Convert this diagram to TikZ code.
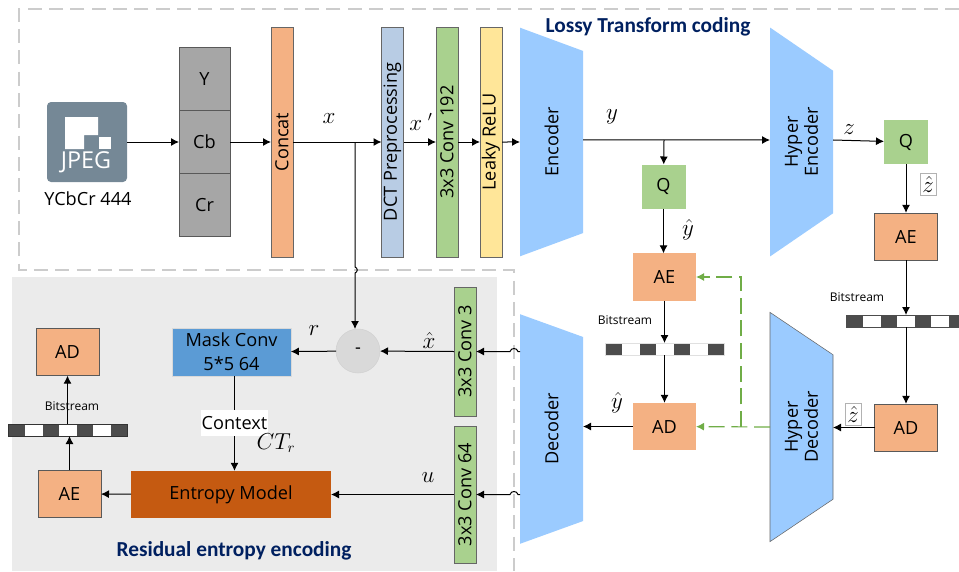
\documentclass[tikz,border=0pt]{standalone}
\usepackage{fontspec}
\setmainfont{Open Sans}
\newfontfamily\titlefont{Carlito}
\usetikzlibrary{arrows.meta,shapes.geometric}
\definecolor{orangebox}{HTML}{F4B183}
\definecolor{greenbox}{HTML}{A9D18E}
\definecolor{bluefunnel}{HTML}{9BCBFF}
\definecolor{navytitle}{HTML}{002060}
\definecolor{jpegslate}{HTML}{758896}
\definecolor{dctblue}{HTML}{B8CCE4}
\definecolor{relugold}{HTML}{FFE699}
\definecolor{maskblue}{HTML}{5B9BD5}
\definecolor{entropybrown}{HTML}{C55A11}
\definecolor{linkgreen}{HTML}{70AD47}
\tikzset{
  >={Latex[length=6pt,width=6pt]},
  base/.style={inner sep=0pt, outer sep=0pt, font=\fontsize{13.6}{15}\selectfont},
  tallbar/.style={base, draw=black!60, rotate=90, minimum height=16.5pt},
  stackbox/.style={base, draw=black!65, fill=black!35, minimum width=38.25pt, minimum height=47pt},
  orangebare/.style={base, fill=orangebox, minimum width=47.25pt, minimum height=35.5pt},
  orangeline/.style={orangebare, draw=black!65},
  qbox/.style={base, fill=greenbox, minimum size=33pt},
  funnel/.style={base, trapezium, trapezium stretches=true, shape border rotate=180, rotate=90,
    trapezium left angle=57.6, trapezium right angle=57.6, align=center,
    minimum width=172.5pt, minimum height=47.25pt, fill=bluefunnel},
  flow/.style={->, line width=0.75pt},
  greenlink/.style={line width=0.9pt, color=linkgreen, dash pattern=on 12pt off 5pt},
  mathlabel/.style={inner sep=0pt, font=\fontsize{16}{18}\selectfont},
  hatbox/.style={mathlabel, draw=black!30, fill=white, minimum width=12pt, minimum height=16.5pt},
  bitlabel/.style={inner sep=0pt, font=\fontsize{9}{10}\selectfont},
  title/.style={inner sep=0pt, text=navytitle, font=\titlefont\bfseries\fontsize{16}{18}\selectfont}
}
% seven cells, the middle one carries the name
\newcommand{\bitbar}[4]{
  \node[inner sep=0pt, outer sep=0pt, minimum width=89.25pt, minimum height=9pt, draw=#4, fill=white] (#1) at (#2,#3) {};
  \foreach \cell in {-3,-1,1,3}
    \fill[black!70] ({#2+\cell*17-8},{#3-5.5}) rectangle ({#2+\cell*17+8},{#3+5.5});
}
\begin{document}
\begin{tikzpicture}[x=0.75pt,y=-0.75pt]
  \useasboundingbox (0,0) rectangle (959,571);
  \fill[black!8] (12,277) rectangle (497,571);
  \draw[black!20, line width=1.1pt, dash pattern=on 10.5pt off 5.5pt] (959,9) -- (19,9) -- (19,270) -- (514,270) -- (514,571);

  % input side
  \node[base, fill=jpegslate, rounded corners=3pt, minimum size=60pt] (jpeg) at (87,142) {};
  \fill[white] (65,117) -- (98,117) -- (98,135) -- (84,135) -- (84,149) -- (65,149) -- cycle;
  \fill[white] (99,137) rectangle (111,149);
  \node[base, text=white, font=\fontsize{17.5}{19}\selectfont] (jpegname) at (86,162) {JPEG};
  \node[base] (format) at (88,199) {YCbCr 444};
  \node[stackbox] (lumay) at (204.5,79) {Y};
  \node[stackbox] (chromab) at (204.5,142) {Cb};
  \node[stackbox] (chromar) at (204.5,205) {Cr};
  \node[tallbar, fill=orangebox, minimum width=172.5pt] (concat) at (282,142) {Concat};
  \node[tallbar, fill=dctblue, minimum width=172.5pt] (dct) at (392.5,142) {DCT Preprocessing};
  \node[tallbar, fill=greenbox, minimum width=172.5pt] (conv192) at (447,142) {3x3 Conv 192};
  \node[tallbar, fill=relugold, minimum width=172.5pt] (relu) at (491,142) {Leaky ReLU};

  % main codec
  \node[funnel] (encoder) at (551.5,142) {Encoder};
  \node[funnel] (hyperenc) at (801.5,142) {Hyper\\Encoder};
  \node[funnel] (decoder) at (551.5,429) {Decoder};
  \node[funnel, draw=black!60] (hyperdec) at (801.5,427) {Hyper\\Decoder};
  \node[qbox] (qmid) at (663.5,186.5) {Q};
  \node[qbox] (qright) at (906,142) {Q};
  \node[orangebare] (aemid) at (664.5,277) {AE};
  \node[orangebare] (admid) at (664.5,426.5) {AD};
  \node[orangeline] (aeright) at (906,236.5) {AE};
  \node[orangeline] (adright) at (906,427.5) {AD};
  \bitbar{barmid}{664.5}{349}{black!12}
  \bitbar{barright}{906}{321}{black!70}

  % residual branch
  \node[tallbar, fill=greenbox, minimum width=97pt] (conv3) at (465,351.5) {3x3 Conv 3};
  \node[tallbar, fill=greenbox, minimum width=103pt] (conv64) at (465,494.5) {3x3 Conv 64};
  \node[circle, base, draw=black!18, fill=black!15, minimum size=33pt] (minus) at (358,351) {-};
  \node[base, draw=black!15, fill=maskblue, minimum width=89pt, minimum height=36pt, align=center] (mask) at (231.5,352) {Mask Conv\\[3pt]5*5 64};
  \node[base, fill=white, minimum width=50pt, minimum height=19.5pt] (context) at (234.5,423) {Context};
  \node[base, fill=entropybrown, minimum width=150pt, minimum height=35.5pt] (entropy) at (231,494.5) {Entropy Model};
  \node[orangeline] (aeleft) at (69.5,494) {AE};
  \node[orangeline] (adleft) at (67.5,352) {AD};
  \bitbar{barleft}{67.5}{430}{black!80}

  % labels
  \node[title] (lossy) at (648,27) {Lossy Transform coding};
  \node[title] (residual) at (234,551) {Residual entropy encoding};
  \node[mathlabel] (labelx) at (329,119) {$x$};
  \node[mathlabel] (labelxp) at (421,122) {$x\ '$};
  \node[mathlabel] (labely) at (612,117) {$y$};
  \node[mathlabel] (labelz) at (849,130) {$z$};
  \node[mathlabel] (labelyq) at (688,230) {$\hat{y}$};
  \node[mathlabel] (labelyd) at (617,403) {$\hat{y}$};
  \node[hatbox] (labelzq) at (928,184) {$\hat{z}$};
  \node[hatbox] (labelzd) at (853,414) {$\hat{z}$};
  \node[mathlabel] (labelr) at (314,331) {$r$};
  \node[mathlabel] (labelxh) at (429,340) {$\hat{x}$};
  \node[mathlabel] (labelu) at (428,478) {$u$};
  \node[mathlabel] (labelct) at (276,443) {$CT_r$};
  \node[bitlabel] (bitsmid) at (625,320) {Bitstream};
  \node[bitlabel] (bitsright) at (857,297) {Bitstream};
  \node[bitlabel] (bitsleft) at (72,406) {Bitstream};

  % connectors of the upper row
  \coordinate (forkx) at (355,142);
  \coordinate (forky) at (664,140);
  \draw[flow] (jpeg) -- (chromab);
  \draw[flow] (chromab) -- (concat.north);
  \draw[flow] (concat.south) -- (dct.north);
  \draw[flow] (dct.south) -- (conv192.north);
  \draw[flow] (conv192.south) -- (relu.north);
  \draw[flow] (relu.south) -- (encoder.north);
  \draw[flow] ([yshift=1.5pt]encoder.south) -- ([yshift=1.5pt]hyperenc.north);
  \draw[flow] (forky) -- (qmid);
  \draw[flow] ([yshift=1.5pt]hyperenc.south) -- (qright);
  \draw[flow] (qmid) -- (qmid |- aemid.north);
  \draw[flow] (qright) -- (aeright);
  \draw[flow] (aemid) -- (barmid);
  \draw[flow] (barmid) -- (admid);
  \draw[flow] (aeright) -- (barright);
  \draw[flow] (barright) -- (adright);
  \draw[flow] (admid) -- (admid -| decoder.south);
  \draw[flow] (adright) -- (adright -| hyperdec.south);

  % hyperprior side information
  \coordinate (forkg) at (741,427);
  \coordinate (forkgtop) at (741,277);
  \draw[greenlink, ->] (hyperdec.north) -- (admid);
  \draw[greenlink, ->] (forkg) -- (forkgtop) -- (aemid);

  % connectors of the residual branch
  \draw[flow] (forkx) -- (355,267) .. controls (358,268) and (358,272) .. (355,273) -- (minus.north -| forkx);
  \draw[flow] (decoder.north |- conv3) -- (518,351.5) .. controls (517,347.5) and (511,347.5) .. (510,351.5) -- (conv3.south);
  \draw[flow] (decoder.north |- conv64) -- (518,494.5) .. controls (517,490.5) and (511,490.5) .. (510,494.5) -- (conv64.south);
  \draw[flow] (conv3.north) -- (minus);
  \draw[flow] (minus) -- (mask);
  \draw (mask.south -| context) -- (context);
  \draw[flow] (context) -- (context |- entropy.north);
  \draw[flow] (conv64.north) -- (entropy);
  \draw[flow] (entropy) -- (aeleft);
  \draw[flow] (aeleft) -- (aeleft |- barleft.south);
  \draw[flow] (barleft) -- (adleft);
\end{tikzpicture}
\end{document}
